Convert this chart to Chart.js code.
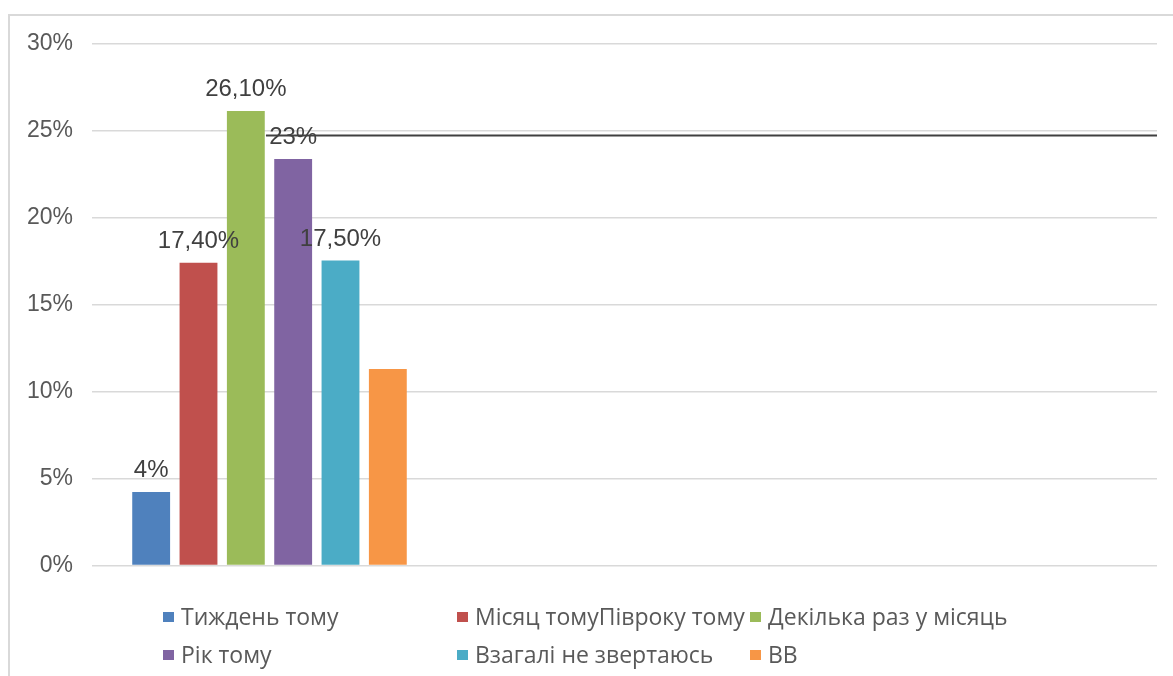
<!DOCTYPE html>
<html>
<head>
<meta charset="utf-8">
<script src="https://cdn.jsdelivr.net/npm/chart.js@4.4.0/dist/chart.umd.min.js"></script>
<style>
  html, body { margin: 0; padding: 0; background: #fff; overflow: hidden; }
  #frame { position: absolute; left: 8px; top: 14px; width: 1300px; height: 800px; border: 2px solid #d9d9d9; }
  #wrap { position: absolute; left: 0; top: 0; width: 1173px; height: 676px; }
</style>
</head>
<body>
<div id="frame"></div>
<div id="wrap"><canvas id="myChart" width="1173" height="676"></canvas></div>
<script>
// data
const categories = ['', '', ''];
const seriesNames = ['Тиждень тому', 'Місяц томуПівроку тому', 'Декілька раз у місяць', 'Рік тому', 'Взагалі не звертаюсь', 'ВВ'];
const seriesValues = [4.23, 17.42, 26.15, 23.39, 17.54, 11.3];
const valueLabels = ['4%', '17,40%', '26,10%', '23%', '17,50%', ''];
const seriesColors = ['#4f81bd', '#c0504d', '#9bbb59', '#8064a2', '#4bacc6', '#f79646'];
const yTicks = [0, 5, 10, 15, 20, 25, 30];
// the dark horizontal line: value, and its span in category units along x
const refLineValue = 24.74;
const refLineX = [-0.01, 2.5];

const TEXT_COLOR = '#595959';
const LABEL_COLOR = '#404040';
const GRID_COLOR = '#d9d9d9';

// one bar dataset per series, only the first category filled
let datasets = seriesNames.map((name, i) => ({
  label: name,
  backgroundColor: seriesColors[i],
  data: categories.map((c, j) => (j === 0 ? seriesValues[i] : null)),
  barPercentage: 0.8,
  categoryPercentage: 0.8,
}));

// horizontal line, placed with the chart's own scales
const refLine = {
  id: 'refLine',
  afterDatasetsDraw(chart) {
    const {ctx, scales} = chart;
    const y = scales.y.getPixelForValue(refLineValue);
    ctx.save();
    ctx.strokeStyle = '#404040';
    ctx.lineWidth = 2;
    ctx.beginPath();
    ctx.moveTo(scales.x.getPixelForValue(refLineX[0]), y);
    ctx.lineTo(scales.x.getPixelForValue(refLineX[1]), y);
    ctx.stroke();
    ctx.restore();
  }
};

// value labels above bars
const barLabels = {
  id: 'barLabels',
  afterDatasetsDraw(chart) {
    const ctx = chart.ctx;
    ctx.save();
    ctx.font = '24px "Liberation Sans", Arial, sans-serif';
    ctx.fillStyle = LABEL_COLOR;
    ctx.textAlign = 'center';
    ctx.textBaseline = 'alphabetic';
    seriesNames.forEach((n, i) => {
      if (!valueLabels[i]) return;
      const bar = chart.getDatasetMeta(i).data[0];
      ctx.fillText(valueLabels[i], bar.x, bar.y - 15);
    });
    ctx.restore();
  }
};

// legend laid out in fixed columns, like the original
const gridLegend = {
  id: 'gridLegend',
  afterDraw(chart) {
    const ctx = chart.ctx;
    const cols = [163, 457, 750];
    const rows = [617, 655];
    ctx.save();
    ctx.font = '23px "Open Sans", sans-serif';
    ctx.textBaseline = 'middle';
    ctx.textAlign = 'left';
    seriesNames.forEach((name, i) => {
      const x = cols[i % 3];
      const y = rows[Math.floor(i / 3)];
      ctx.fillStyle = seriesColors[i];
      ctx.fillRect(x, y - 5, 11, 10);
      ctx.fillStyle = TEXT_COLOR;
      ctx.fillText(name, x + 18, y + 1);
    });
    ctx.restore();
  }
};

var ctx = document.getElementById('myChart').getContext('2d');
var chart = new Chart(ctx, {
  type: 'bar',
  data: { labels: categories, datasets: datasets },
  plugins: [refLine, barLabels, gridLegend],
  options: {
    responsive: false,
    animation: false,
    layout: { padding: { top: 44, bottom: 110.5, right: 16, left: 0 } },
    scales: {
      x: { display: false },
      y: {
        min: 0,
        max: 30,
        afterFit: (scale) => { scale.width = 92; },
        afterBuildTicks: (scale) => { scale.ticks = yTicks.map(v => ({ value: v })); },
        border: { display: false },
        grid: { color: GRID_COLOR, lineWidth: 1.5, drawTicks: false },
        ticks: {
          padding: 19,
          color: TEXT_COLOR,
          font: { family: '"Liberation Sans", Arial, sans-serif', size: 23 },
          callback: (v) => v + '%',
        },
      },
    },
    plugins: {
      legend: { display: false },
      tooltip: { enabled: false },
    },
  },
});
</script>
</body>
</html>
